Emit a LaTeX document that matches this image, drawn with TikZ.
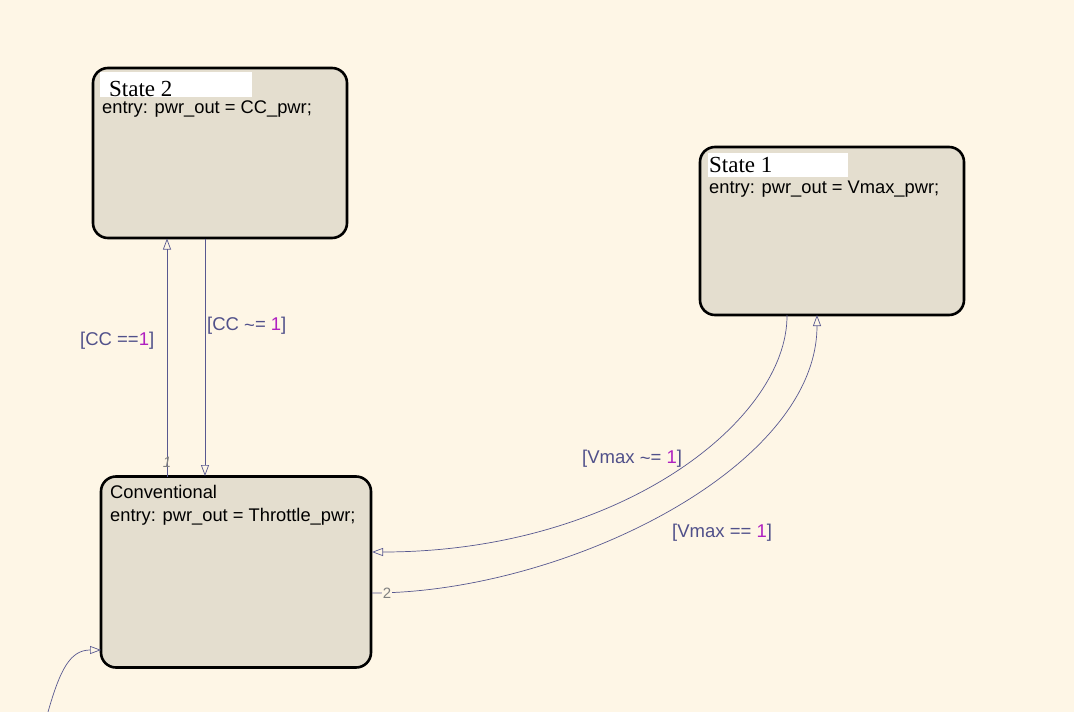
\documentclass[tikz,border=0pt]{standalone}
\usepackage{fontspec}
\setmainfont{Liberation Serif}
\setsansfont{Liberation Sans}
\usetikzlibrary{arrows.meta}
\definecolor{bg}{HTML}{FEF6E6}
\definecolor{stfill}{HTML}{E4DECF}
\definecolor{trans}{HTML}{585890}
\definecolor{lbl}{HTML}{50508A}
\definecolor{mag}{HTML}{B020C0}
\tikzset{
  stbox/.style={draw=black, line width=2.6pt, fill=stfill, rounded corners=15pt, inner sep=0pt},
  tr/.style={draw=trans, line width=0.7pt, -{Triangle[open, length=11pt, width=8pt]}},
  stname/.style={anchor=base west, inner sep=0pt, font=\rmfamily\fontsize{23}{23}\selectfont},
  entry/.style={anchor=base west, inner sep=0pt, font=\sffamily\fontsize{18.3}{18.3}\selectfont},
  glabel/.style={anchor=base west, inner sep=0pt, text=lbl, font=\sffamily\fontsize{18.5}{18.5}\selectfont},
  small/.style={inner sep=1pt, text=gray, font=\sffamily\itshape\fontsize{15}{15}\selectfont}
}
\newcommand{\tld}{\raisebox{-1pt}{\textasciitilde}}
\begin{document}
\begin{tikzpicture}[x=1pt, y=-1pt]
\useasboundingbox[fill=bg] (0,0) rectangle (1074,712);
% states
\node[stbox, minimum width=254pt, minimum height=170pt] (s2) at (220,153) {};
\node[stbox, minimum width=264pt, minimum height=168pt] (s1) at (832,231) {};
\node[stbox, minimum width=270pt, minimum height=191pt] (cv) at (236,572) {};
% state 2 text
\fill[white] (100,72) rectangle (252,97);
\node[stname] (s2n) at (109,96) {State 2};
\node[entry] (s2e) at (102,113) {entry: pwr\_out = CC\_pwr;};
% state 1 text
\fill[white] (708,153) rectangle (848,177);
\node[stname] (s1n) at (709,172.5) {State 1};
\node[entry] (s1e) at (709,193.5) {entry: pwr\_out = Vmax\_pwr;};
% conventional text
\node[entry] (cvn) at (110,498) {Conventional};
\node[entry] (cve) at (110,521) {entry: pwr\_out = Throttle\_pwr;};
% coordinates on borders
\coordinate (a1) at (167,477);
\coordinate (a2) at (167,238.5);
\coordinate (b1) at (205,238.5);
\coordinate (b2) at (205,476);
\coordinate (c1) at (787,315);
\coordinate (c2) at (372,552);
\coordinate (d1) at (372,593);
\coordinate (d2) at (817,315);
\coordinate (e1) at (48,712);
\coordinate (e2) at (101,650);
% transitions
\draw[tr] (a1) -- (a2);
\draw[tr] (b1) -- (b2);
\draw[tr] (c1) .. controls (788,420) and (620,552) .. (c2);
\draw[tr] (d1) .. controls (560,593) and (817,470) .. (d2);
\draw[tr] (e1) .. controls (60,670) and (70,650) .. (e2);
% labels
\node[small] (l1) at (167,462) {1};
\node[small, fill=bg, font=\sffamily\fontsize{15}{15}\selectfont] (l2) at (387,593) {2};
\node[glabel] (g1) at (80,345) {[CC ==\textcolor{mag}{1}]};
\node[glabel] (g2) at (207,330) {[CC \tld= \textcolor{mag}{1}]};
\node[glabel] (g3) at (582,463) {[Vmax \tld= \textcolor{mag}{1}]};
\node[glabel] (g4) at (672,537) {[Vmax == \textcolor{mag}{1}]};
\end{tikzpicture}
\end{document}
